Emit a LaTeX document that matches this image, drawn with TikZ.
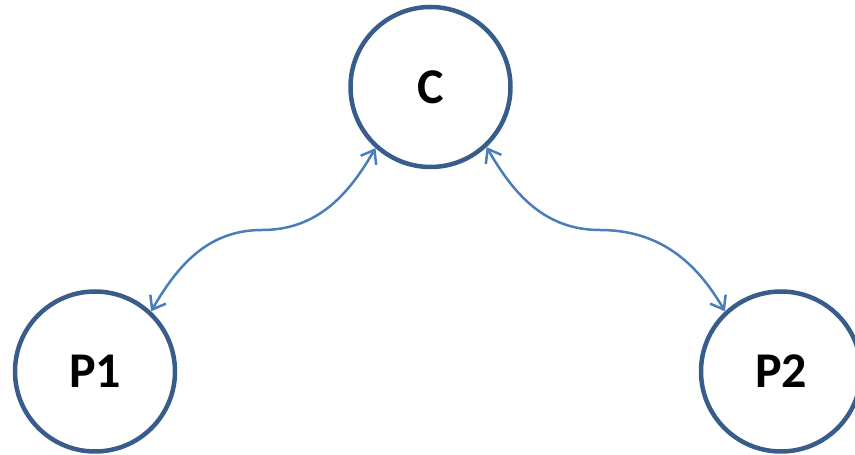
\documentclass[tikz,border=0pt]{standalone}
\usepackage{fontspec}
\setmainfont{Carlito}
\usetikzlibrary{arrows.meta}

\definecolor{ringblue}{HTML}{385D8A}
\definecolor{linkblue}{HTML}{4A7EBB}

\begin{document}
\begin{tikzpicture}[
  x=1pt,y=1pt,
  party/.style={draw=ringblue,line width=4.5pt,circle,minimum size=160pt,inner sep=0pt,
    font=\fontsize{50}{60}\selectfont\bfseries},
  link/.style={{Straight Barb[length=12pt,width=18pt]}-{Straight Barb[length=12pt,width=18pt]},
    draw=linkblue,line width=2.5pt}
]
\useasboundingbox (0,0) rectangle (855,455);
\node[party] (c) at (430.5,368) {C};
\node[party] (p1) at (95,83.5) {P1};
\node[party] (p2) at (781,83.5) {P2};
\coordinate (m1) at (262,225);
\coordinate (m2) at (600,225);
\draw[link] (c.228) to[out=240,in=0] (m1) to[out=180,in=60] (p1.47);
\draw[link] (c.313) to[out=-60,in=180] (m2) to[out=0,in=120] (p2.133);
\end{tikzpicture}
\end{document}
